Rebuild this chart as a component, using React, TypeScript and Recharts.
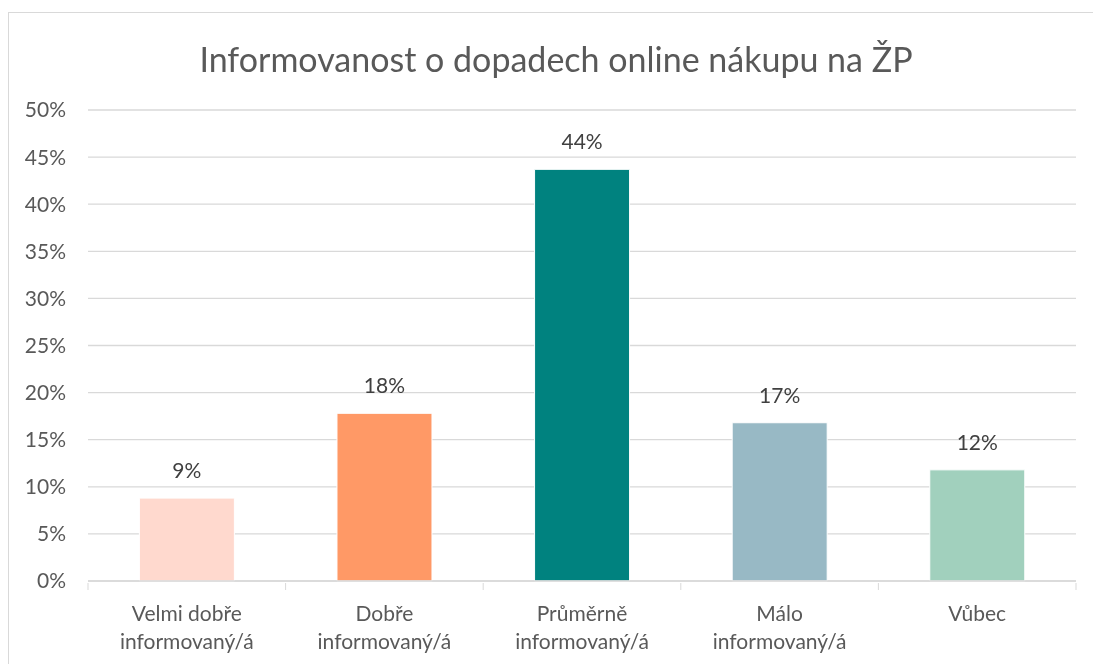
import { BarChart, Bar, XAxis, YAxis, CartesianGrid, LabelList, Cell } from 'recharts'

const categories = ['Velmi dobře|informovaný/á', 'Dobře|informovaný/á', 'Průměrně|informovaný/á', 'Málo|informovaný/á', 'Vůbec']
const values = [8.8, 17.8, 43.7, 16.8, 11.8]
const colors = ['#FFD9CE', '#FF9966', '#00827F', '#98B9C5', '#A1D0BD']
const yTicks = [0, 5, 10, 15, 20, 25, 30, 35, 40, 45, 50]

const data = categories.map((c, i) => ({ name: c, value: values[i] }))

const FONT = 'Lato, "Open Sans", sans-serif'

function CategoryTick(props: any) {
  const { x, y, payload, index, visibleTicksCount } = props
  const off = payload.offset || 0
  const lines = String(payload.value).split('|')
  return (
    <g>
      <line x1={x - off} x2={x - off} y1={y - 6} y2={y + 1} stroke="#d9d9d9" />
      {index === visibleTicksCount - 1 && (
        <line x1={x + off} x2={x + off} y1={y - 6} y2={y + 1} stroke="#d9d9d9" />
      )}
      <text x={x} y={y} textAnchor="middle" fill="#595959" fontSize={21} fontFamily={FONT}>
        {lines.map((l, i) => (
          <tspan key={i} x={x} dy={i === 0 ? 32 : 28}>{l}</tspan>
        ))}
      </text>
    </g>
  )
}

export default function App() {
  return (
    <div style={{ position: 'fixed', left: 8, top: 13, width: 1076, height: 651, borderLeft: '1px solid #d9d9d9', fontFamily: FONT }}>
      <div style={{ position: 'absolute', top: -1, left: -1, width: 1085, height: 0, borderTop: '1px solid #d9d9d9' }} />
      <div style={{ position: 'absolute', top: 25, left: 0, width: 1094, textAlign: 'center', fontSize: 34, color: '#595959', whiteSpace: 'nowrap' }}>
        Informovanost o dopadech online nákupu na ŽP
      </div>
      <BarChart width={1076} height={650} data={data} margin={{ top: 97, right: 9, left: 0, bottom: 0 }} barCategoryGap="26%">
        <CartesianGrid vertical={false} stroke="#d9d9d9" strokeWidth={1.3} />
        <XAxis dataKey="name" interval={0} tickLine={false} axisLine={{ stroke: '#d9d9d9', strokeWidth: 1.3 }} tick={<CategoryTick />} height={82} />
        <YAxis domain={[0, 50]} ticks={yTicks} interval={0} axisLine={false} tickLine={false} width={79} tickMargin={16}
          tickFormatter={(v: number) => `${v}%`} tick={{ fill: '#595959', fontSize: 21, fontFamily: FONT }} />
        <Bar dataKey="value" isAnimationActive={false} stroke="#ffffff" strokeWidth={1}>
          {data.map((d, i) => <Cell key={d.name} fill={colors[i]} />)}
          <LabelList dataKey="value" position="top" offset={20} fill="#404040" fontSize={21} fontFamily={FONT}
            formatter={(v: any) => `${Math.round(Number(v))}%`} />
        </Bar>
      </BarChart>
    </div>
  )
}
